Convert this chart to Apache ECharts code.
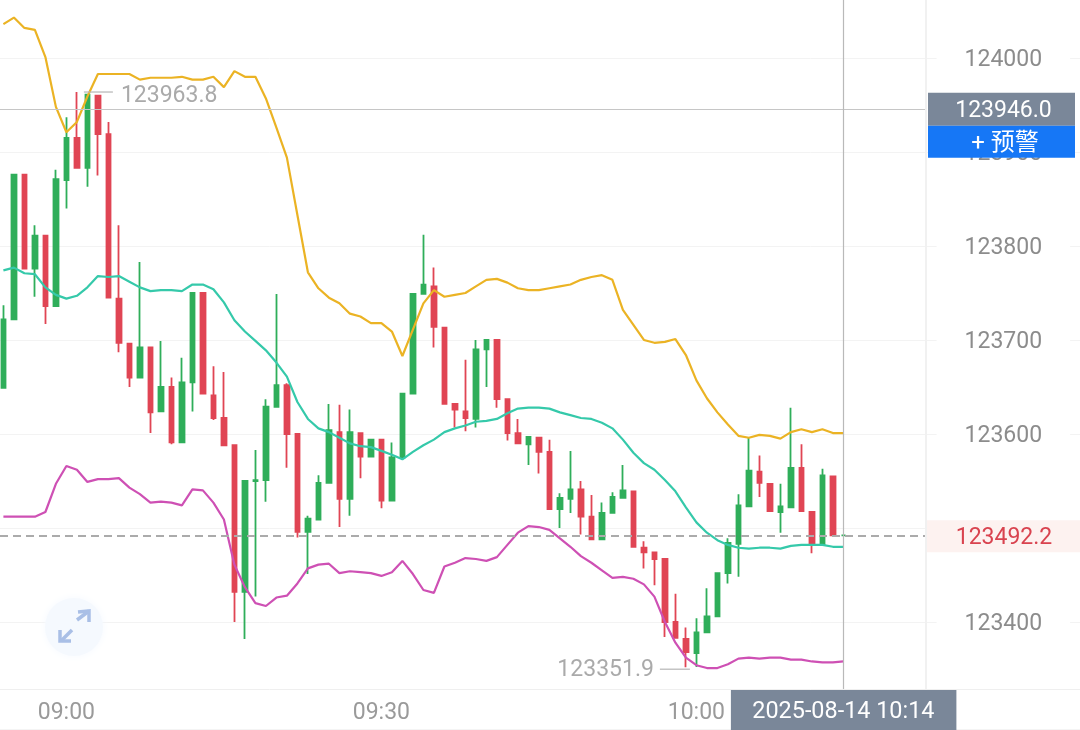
<!DOCTYPE html>
<html><head><meta charset="utf-8">
<style>html,body{margin:0;padding:0;background:#fff}#c{width:1080px;height:730px}</style>
<script src="https://cdn.jsdelivr.net/npm/echarts@6/dist/echarts.min.js"></script>
</head><body><div id="c"></div>
<script>
// minutes relative to 09:00 covered by the category axis
const firstMinute = -6, lastMinute = 97;
const tickLabels = ['09:00','09:30','10:00'];
const priceTicks = [123400,123500,123600,123700,123800,123900,124000];
const priceLabels = [123400,123600,123700,123800,123900,124000]; // 123500 sits behind the current-price tag
const currentPrice = 123492.2, crossPrice = 123946.0, crossTime = '10:14', crossDate = '2025-08-14 10:14';
const highMark = 123963.8, lowMark = 123351.9;

// [open, close, low, high]
const candles = [
[123649,123722,123649,123737],[123722,123876,123722,123876],[123876,123776,123776,123876],[123776,123811,123746,123822],
[123811,123736,123717,123811],[123736,123871,123736,123881],[123870,123915,123840,123937],[123915,123883,123883,123963.8],
[123883,123961,123863,123961],[123960,123919,123875,123960],[123919,123745,123745,123932],[123744,123697,123687,123822],
[123696,123660,123650,123696],[123660,123692,123660,123783],[123692,123623,123601,123692],[123624,123650,123624,123699],
[123650,123591,123589,123660],[123591,123655,123591,123681],[123655,123750,123624,123750],[123750,123643,123643,123750],
[123641,123617,123615,123672],[123617,123588,123588,123666],[123588,123432,123400,123588],[123432,123550,123382,123550],
[123550,123551,123427,123583],[123551,123629,123528,123637],[123629,123652,123629,123749],[123652,123600,123564,123654],
[123600,123496,123490,123600],[123496,123510,123451,123513],[123509,123548,123509,123556],[123548,123604,123548,123632],
[123602,123531,123501,123631],[123531,123602,123513,123626],[123601,123576,123553,123601],[123576,123594,123576,123594],
[123594,123529,123521,123594],[123529,123575,123529,123591],[123575,123643,123575,123643],[123643,123749,123643,123749],
[123749,123759,123749,123812],[123757,123714,123692,123777],[123713,123632,123632,123713],[123632,123626,123607,123632],
[123624,123617,123603,123679],[123616,123690,123607,123700],[123690,123700,123650,123700],[123700,123637,123628,123700],
[123637,123601,123593,123637],[123601,123590,123590,123616],[123589,123597,123567,123597],[123596,123581,123558,123596],
[123581,123520,123520,123594],[123520,123532,123500,123537],[123531,123541,123516,123582],[123541,123512,123493,123550],
[123512,123488,123488,123535],[123488,123516,123488,123527],[123516,123533,123516,123538],[123532,123540,123532,123567],
[123539,123480,123480,123539],[123479,123474,123457,123486],[123474,123467,123439,123474],[123467,123400,123384,123467],
[123400,123383,123383,123430],[123382,123368,123351.9,123394],[123367,123389,123352,123404],[123389,123406,123389,123436],
[123406,123452,123406,123452],[123452,123484,123441,123489],[123483,123524,123448,123536],[123523,123561,123523,123596],
[123560,123548,123533,123577],[123547,123518,123518,123547],[123517,123523,123495,123547],[123522,123564,123521,123628],
[123564,123518,123518,123589],[123517,123482,123473,123517],[123482,123556,123482,123563],[123555,123492.2,123492.2,123555],
[123492.2,123492.2,123492.2,123492.2]
];
const upperBand = [
124036,124043,124032,124030,124001,123948,123921,123932,123959,123983,123983,123983,123983,123977,123979,123979,123979,123980,123977,123977,
123980,123969,123986,123980,123980,123957,123926,123894,123833,123772,123755,123745,123739,123728,123725,123718,123718,123709,123683,123711,
123739,123753,123746,123748,123750,123757,123764,123765,123761,123755,123753,123753,123755,123757,123759,123764,123767,123769,123764,123732,
123716,123700,123697,123698,123701,123684,123657,123638,123623,123610,123598,123596,123599,123598,123595,123602,123605,123602,123605,123601,
123601];
const middleBand = [
123774,123777,123771,123770,123756,123748,123744,123747,123756,123768,123767,123768,123762,123756,123752,123753,123753,123752,123759,123759,
123754,123740,123721,123709,123699,123689,123676,123661,123634,123616,123606,123602,123596,123590,123587,123586,123582,123578,123573,123581,
123588,123594,123602,123606,123609,123613,123614,123616,123622,123627,123628,123628,123627,123623,123620,123617,123616,123612,123606,123594,
123580,123569,123562,123551,123539,123522,123506,123495,123487,123482,123479,123478,123479,123479,123478,123481,123482,123482,123482,123480,
123480];
const lowerBand = [
123512,123512,123512,123512,123517,123547,123566,123562,123549,123552,123552,123553,123543,123536,123527,123528,123527,123524,123541,123540,
123527,123509,123461,123437,123420,123417,123426,123428,123441,123457,123461,123462,123452,123454,123453,123452,123449,123453,123465,123451,
123434,123431,123459,123463,123468,123467,123465,123469,123482,123495,123502,123501,123498,123489,123480,123470,123463,123455,123447,123448,
123446,123440,123427,123400,123378,123362,123354,123351,123351,123355,123361,123362,123361,123362,123362,123360,123360,123358,123357,123357,
123358];

const categories = [];
for (let m = firstMinute; m <= lastMinute; m++) {
  const t = 540 + m;
  categories.push(String(Math.floor(t / 60)).padStart(2,'0') + ':' + String(t % 60).padStart(2,'0'));
}

const FONT = 'Roboto, "Noto Sans CJK SC", sans-serif';
const GREEN = '#2FAE5A', RED = '#E04554', TAG = '#7A8799';
const DIVIDER_X = 926;
const chart = echarts.init(document.getElementById('c'), null, {renderer:'canvas'});

chart.setOption({
  animation:false,
  backgroundColor:'#fff',
  grid:{left:-1.85, top:0, width:1092, height:689, containLabel:false, outerBoundsMode:'none'},
  xAxis:{
    type:'category', data:categories, boundaryGap:true,
    axisLine:{show:true, lineStyle:{color:'#efefef', width:1}},
    axisTick:{show:false}, splitLine:{show:false},
    axisLabel:{
      interval:(i, v) => tickLabels.includes(v),
      margin:13, color:'#9a9a9a', fontSize:23, fontFamily:FONT
    }
  },
  yAxis:{
    type:'value', position:'right', min:123328.7, max:124061.7, scale:true,
    axisLine:{show:false},
    axisTick:{show:false, customValues:priceTicks},
    splitLine:{show:true, lineStyle:{color:'#f3f3f3', width:1}},
    axisLabel:{
      customValues:priceLabels, inside:true, margin:20,
      backgroundColor:'#fff', padding:[0,28,0,28], formatter:v => '{p|' + v + '}',
      rich:{p:{color:'#8c8c8c', fontSize:23, fontFamily:FONT, padding:[5,0,0,0]}}
    }
  },
  series:[
    {type:'candlestick', data:candles, barWidth:5.2, z:3,
     itemStyle:{color:GREEN, color0:RED, borderColor:GREEN, borderColor0:RED, borderWidth:1.8}},
    {type:'line', data:upperBand, symbol:'none', z:4, lineStyle:{color:'#EBB324', width:2.2}},
    {type:'line', data:middleBand, symbol:'none', z:4, lineStyle:{color:'#35C9AA', width:2.2}},
    {type:'line', data:lowerBand, symbol:'none', z:4, lineStyle:{color:'#CE50B4', width:2.2}},
    {type:'line', data:[], symbol:'none', z:5,
     markLine:{silent:true, symbol:'none', animation:false, label:{show:false}, data:[
       [{x:0, yAxis:currentPrice, lineStyle:{color:'#ababab', width:2, type:[8,5]}}, {x:DIVIDER_X, yAxis:currentPrice}],
       [{x:0, yAxis:crossPrice, lineStyle:{color:'#c6c6c6', width:1.2, type:'solid'}}, {x:DIVIDER_X, yAxis:crossPrice}],
       {xAxis:crossTime, lineStyle:{color:'#b9b9b9', width:1.2, type:'solid'}}
     ]}}
  ]
});

// overlay tags, placed through the chart's own scales
const px = (cat, val) => chart.convertToPixel({gridIndex:0}, [cat, val]);
const xCross = px(crossTime, crossPrice)[0];
const yCross = px(crossTime, crossPrice)[1];
const yCur = px(crossTime, currentPrice)[1];
const H = px(categories[7], highMark), L = px(categories[65], lowMark);
const white = {fill:'#fff', font:'23px '+FONT, textAlign:'center', textVerticalAlign:'middle'};
const ico = '#A9BFE6';
chart.setOption({graphic:[
  {type:'line', z:50, silent:true, shape:{x1:DIVIDER_X,y1:0,x2:DIVIDER_X,y2:689}, style:{stroke:'#f1f1f1',lineWidth:2}},
  {type:'line', z:50, silent:true, shape:{x1:0,y1:729.5,x2:1080,y2:729.5}, style:{stroke:'#f4f4f4',lineWidth:1}},
  // high / low leaders
  {type:'line', z:60, silent:true, shape:{x1:H[0]+7,y1:H[1],x2:H[0]+36,y2:H[1]}, style:{stroke:'#b5b5b5',lineWidth:1.2}},
  {type:'text', z:60, silent:true, x:H[0]+44, y:H[1]+4, style:{text:String(highMark), fill:'#aaaaaa', font:'23px '+FONT, textAlign:'left', textVerticalAlign:'middle'}},
  {type:'line', z:60, silent:true, shape:{x1:L[0]-26,y1:L[1]+2,x2:L[0]+4,y2:L[1]+2}, style:{stroke:'#b5b5b5',lineWidth:1.2}},
  {type:'text', z:60, silent:true, x:L[0]-32, y:L[1]+3, style:{text:String(lowMark), fill:'#aaaaaa', font:'23px '+FONT, textAlign:'right', textVerticalAlign:'middle'}},
  // cross price + alert button
  {type:'rect', z:70, silent:true, shape:{x:928,y:yCross-16,width:147,height:33}, style:{fill:TAG}},
  {type:'text', z:71, silent:true, x:1003.5, y:yCross+2.5, style:Object.assign({text:crossPrice.toFixed(1)}, white)},
  {type:'rect', z:70, silent:true, shape:{x:928,y:yCross+17,width:147,height:32}, style:{fill:'#1677F6'}},
  {type:'text', z:71, silent:true, x:1005, y:yCross+35, style:Object.assign({text:'+ 预警'}, white, {font:'24px '+FONT})},
  // current price
  {type:'rect', z:70, silent:true, shape:{x:927,y:yCur-15,width:153,height:32}, style:{fill:'#FDF2F0'}},
  {type:'text', z:71, silent:true, x:1004, y:yCur+2.5, style:{text:currentPrice.toFixed(1), fill:'#D9434F', font:'23px '+FONT, textAlign:'center', textVerticalAlign:'middle'}},
  // date tag
  {type:'rect', z:70, silent:true, shape:{x:xCross-112.5,y:690,width:225.5,height:40}, style:{fill:TAG}},
  {type:'text', z:71, silent:true, x:xCross, y:712.5, style:Object.assign({text:crossDate}, white, {font:'23.4px '+FONT})},
  // expand icon
  {type:'circle', z:55, silent:true, shape:{cx:74,cy:627,r:29}, style:{fill:'#F5F9FE', shadowBlur:8, shadowColor:'#F5F9FE'}},
  {type:'polyline', z:56, silent:true, shape:{points:[[77,620],[89,611]]}, style:{stroke:ico,lineWidth:3.5,fill:null}},
  {type:'polyline', z:56, silent:true, shape:{points:[[78,612],[89,611],[89,622]]}, style:{stroke:ico,lineWidth:3.5,fill:null}},
  {type:'polyline', z:56, silent:true, shape:{points:[[61,641],[72,630]]}, style:{stroke:ico,lineWidth:3.5,fill:null}},
  {type:'polyline', z:56, silent:true, shape:{points:[[60,630],[60,641],[71,641]]}, style:{stroke:ico,lineWidth:3.5,fill:null}}
]});
if (candles.length!==81||upperBand.length!==81||middleBand.length!==81||lowerBand.length!==81) throw new Error('len '+[candles.length,upperBand.length,middleBand.length,lowerBand.length]);
</script></body></html>
